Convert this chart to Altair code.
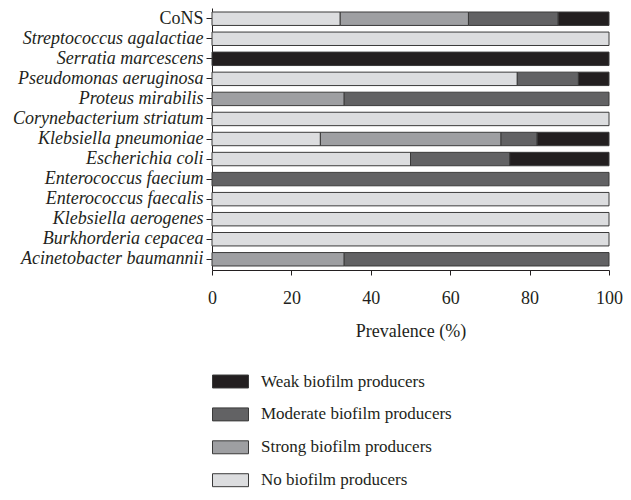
import altair as alt
import pandas as pd

species = [
    "CoNS", "Streptococcus agalactiae", "Serratia marcescens", "Pseudomonas aeruginosa",
    "Proteus mirabilis", "Corynebacterium striatum", "Klebsiella pneumoniae",
    "Escherichia coli\u00a0", "Enterococcus faecium", "Enterococcus faecalis",
    "Klebsiella aerogenes", "Burkhorderia cepacea", "Acinetobacter baumannii",
]
no_prod = [32.3, 100, 0, 76.9, 0, 100, 27.3, 50, 0, 100, 100, 100, 0]
strong = [32.3, 0, 0, 0, 33.3, 0, 45.5, 0, 0, 0, 0, 0, 33.3]
moderate = [22.6, 0, 0, 15.4, 66.7, 0, 9.1, 25, 100, 0, 0, 0, 66.7]
weak = [12.8, 0, 100, 7.7, 0, 0, 18.1, 25, 0, 0, 0, 0, 0]

cats = ["No biofilm producers", "Strong biofilm producers",
        "Moderate biofilm producers", "Weak biofilm producers"]
legend_order = ["Weak biofilm producers", "Moderate biofilm producers",
                "Strong biofilm producers", "No biofilm producers"]
colors = {"No biofilm producers": "#dcdddf", "Strong biofilm producers": "#9e9fa2",
          "Moderate biofilm producers": "#626264", "Weak biofilm producers": "#231f20"}

rows = []
for i, sp in enumerate(species):
    for k, (cat, vals) in enumerate(zip(cats, [no_prod, strong, moderate, weak])):
        if vals[i] > 0:
            rows.append({"species": sp, "category": cat, "value": vals[i], "order": k})
df = pd.DataFrame(rows)

FONT = "Liberation Serif"

chart = alt.Chart(df).mark_bar(stroke="#3a3a3a", strokeWidth=1).encode(
    x=alt.X("value:Q", stack="zero",
            scale=alt.Scale(domain=[0, 100], nice=False),
            axis=alt.Axis(title="Prevalence (%)", values=[0, 20, 40, 60, 80, 100],
                          grid=False, tickSize=5, labelPadding=14, titlePadding=15,
                          labelFlush=False, labelFontSize=18, titleFontSize=18)),
    y=alt.Y("species:N", sort=species,
            scale=alt.Scale(paddingInner=0.33, paddingOuter=0.2),
            axis=alt.Axis(title=None, tickSize=6, labelPadding=3, labelFontSize=18,
                          labelLimit=300,
                          labelFontStyle=alt.ExprRef("datum.value == 'CoNS' ? 'normal' : 'italic'"))),
    color=alt.Color("category:N",
                    scale=alt.Scale(domain=legend_order, range=[colors[c] for c in legend_order]),
                    legend=alt.Legend(title=None, orient="none", legendX=0, legendY=355,
                                      symbolType="M-1,-0.36L1,-0.36L1,0.36L-1,0.36Z",
                                      symbolSize=1296, symbolStrokeColor="#3a3a3a",
                                      symbolStrokeWidth=1, symbolOpacity=1,
                                      labelFontSize=17, rowPadding=5.9, labelOffset=12,
                                      labelLimit=400)),
    order=alt.Order("order:Q"),
).properties(
    width=397, height=262,
    autosize=alt.AutoSizeParams(type="none"),
    padding={"left": 204, "top": 0, "right": 14, "bottom": 222},
).configure_view(stroke=None).configure_axis(
    labelFont=FONT, titleFont=FONT, labelColor="#231f20", titleColor="#231f20",
    domainColor="#231f20", tickColor="#231f20", titleFontWeight="normal",
).configure_legend(labelFont=FONT, labelColor="#231f20")

chart.save("out.html", embed_options={"renderer": "svg", "actions": False})
